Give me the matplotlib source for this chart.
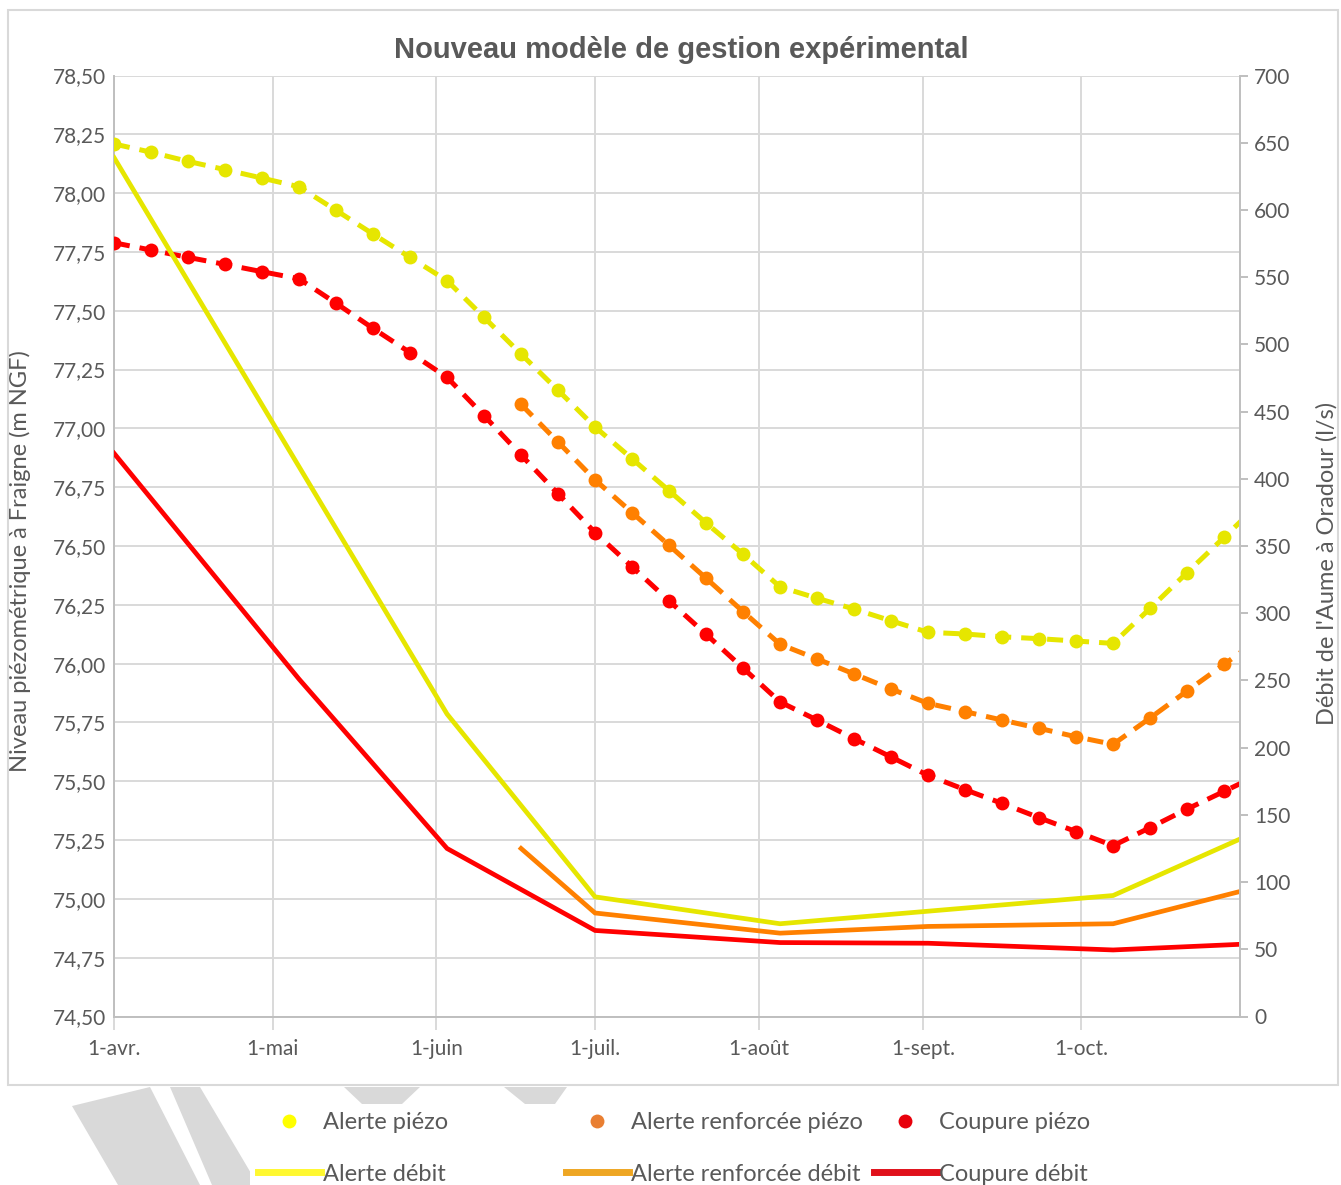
import matplotlib
matplotlib.use("Agg")
import matplotlib.pyplot as plt
from matplotlib.lines import Line2D
from matplotlib.patches import Polygon, Rectangle
import pandas as pd

# ---------------- data ----------------
weekly_dates = ["2021-04-01", "2021-04-08", "2021-04-15", "2021-04-22", "2021-04-29",
                "2021-05-06", "2021-05-13", "2021-05-20", "2021-05-27",
                "2021-06-03", "2021-06-10", "2021-06-17", "2021-06-24",
                "2021-07-01", "2021-07-08", "2021-07-15", "2021-07-22", "2021-07-29",
                "2021-08-05", "2021-08-12", "2021-08-19", "2021-08-26",
                "2021-09-02", "2021-09-09", "2021-09-16", "2021-09-23", "2021-09-30",
                "2021-10-07", "2021-10-14", "2021-10-21", "2021-10-28", "2021-11-04"]

alerte_piezo = [78.209, 78.174, 78.135, 78.100, 78.064, 78.027, 77.927, 77.826, 77.727,
                77.628, 77.472, 77.316, 77.162, 77.006, 76.871, 76.735, 76.598, 76.465,
                76.326, 76.278, 76.232, 76.182, 76.133, 76.126, 76.114, 76.106, 76.096,
                76.086, 76.235, 76.387, 76.537, 76.688]

coupure_piezo = [77.789, 77.758, 77.727, 77.697, 77.666, 77.636, 77.532, 77.425, 77.322,
                 77.217, 77.054, 76.887, 76.722, 76.557, 76.412, 76.267, 76.125, 75.981,
                 75.837, 75.760, 75.681, 75.603, 75.525, 75.464, 75.406, 75.345, 75.286,
                 75.226, 75.303, 75.382, 75.457, 75.533]

renf_piezo_dates = weekly_dates[11:]
renf_piezo = [77.102, 76.942, 76.781, 76.642, 76.503, 76.363, 76.221, 76.082, 76.020,
              75.956, 75.892, 75.831, 75.796, 75.760, 75.725, 75.689, 75.657, 75.769,
              75.884, 75.997, 76.111]

alerte_debit_dates = ["2021-04-01", "2021-06-03", "2021-07-01", "2021-08-05", "2021-10-07", "2021-11-04"]
alerte_debit = [639, 225, 89, 69, 90, 139]

renf_debit_dates = ["2021-06-17", "2021-07-01", "2021-08-05", "2021-09-02", "2021-10-07", "2021-11-04"]
renf_debit = [125, 77, 62, 67, 69, 97]

coupure_debit_dates = ["2021-04-01", "2021-05-06", "2021-06-03", "2021-07-01", "2021-08-05",
                       "2021-09-02", "2021-10-07", "2021-11-04"]
coupure_debit = [419, 251, 125, 64, 55, 54.5, 49.5, 54.4]

month_ticks = ["2021-04-01", "2021-05-01", "2021-06-01", "2021-07-01", "2021-08-01",
               "2021-09-01", "2021-10-01"]
month_labels = ["1-avr.", "1-mai", "1-juin", "1-juil.", "1-août", "1-sept.", "1-oct."]

left_ticks = [74.50, 74.75, 75.00, 75.25, 75.50, 75.75, 76.00, 76.25, 76.50, 76.75,
              77.00, 77.25, 77.50, 77.75, 78.00, 78.25, 78.50]
right_ticks = [0, 50, 100, 150, 200, 250, 300, 350, 400, 450, 500, 550, 600, 650, 700]

title = "Nouveau modèle de gestion expérimental"
left_label = "Niveau piézométrique à Fraigne (m NGF)"
right_label = "Débit de l'Aume à Oradour (l/s)"

# ---------------- style ----------------
YEL, ORA, RED = "#E6E600", "#FF8000", "#FF0000"
GRAY = "#595959"
GRID = "#d9d9d9"
TXT_FONT = ["Lato", "DejaVu Sans"]

W, H = 1341, 1185
fig = plt.figure(figsize=(W / 100, H / 100), dpi=100)
fig.patch.set_facecolor("white")

def fx(px):
    return px / W

def fy(py):
    return 1 - py / H

# chart frame
fig.add_artist(Rectangle((fx(8), fy(1085)), fx(1338) - fx(8), fy(10) - fy(1085),
                         transform=fig.transFigure, fill=False, edgecolor=GRID, lw=1.5))

# watermark shapes (background decoration)
wm = "#d9d9d9"
for poly in [
    [(72, 1106), (150, 1087), (200, 1185), (118, 1185)],
    [(170, 1087), (200, 1087), (258, 1185), (212, 1185)],
    [(344, 1087), (420, 1087), (402, 1104), (362, 1104)],
    [(504, 1087), (567, 1087), (555, 1104), (525, 1104)],
]:
    fig.add_artist(Polygon([(fx(a), fy(b)) for a, b in poly], closed=True,
                           transform=fig.transFigure, facecolor=wm, edgecolor="none"))

ax = fig.add_axes([fx(114), fy(1016.5), fx(1240) - fx(114), fy(75.5) - fy(1016.5)])
ax2 = ax.twinx()

wd = pd.to_datetime(weekly_dates)
dash_kw = dict(lw=3.6, dashes=(3.2, 2), marker="o", markersize=10, markeredgewidth=0)
ax.plot(wd, alerte_piezo, color=YEL, **dash_kw, zorder=3)
ax.plot(pd.to_datetime(renf_piezo_dates), renf_piezo, color=ORA, **dash_kw, zorder=3)
ax.plot(wd, coupure_piezo, color=RED, **dash_kw, zorder=3)

solid_kw = dict(lw=3.4, solid_joinstyle="miter")
ax2.plot(pd.to_datetime(alerte_debit_dates), alerte_debit, color=YEL, **solid_kw)
ax2.plot(pd.to_datetime(renf_debit_dates), renf_debit, color=ORA, **solid_kw)
ax2.plot(pd.to_datetime(coupure_debit_dates), coupure_debit, color=RED, **solid_kw)

ax.set_xlim(pd.Timestamp("2021-04-01"), pd.Timestamp("2021-10-31"))
ax.set_ylim(74.5, 78.5)
ax2.set_ylim(0, 700)

ax.set_xticks(pd.to_datetime(month_ticks))
ax.set_xticklabels(month_labels)
ax.set_yticks(left_ticks)
ax.set_yticklabels([f"{v:.2f}".replace(".", ",") for v in left_ticks])
ax2.set_yticks(right_ticks)
ax2.set_yticklabels([str(v) for v in right_ticks])

ax.grid(True, color=GRID, lw=1.4)
ax.set_axisbelow(True)
for a in (ax, ax2):
    a.spines["top"].set_visible(False)
ax.spines["right"].set_visible(False)
ax2.spines["left"].set_visible(False)
ax2.spines["bottom"].set_visible(False)
ax.spines["left"].set_color("#bfbfbf")
ax.spines["left"].set_linewidth(1.4)
ax.spines["bottom"].set_color("#bfbfbf")
ax.spines["bottom"].set_linewidth(1.4)
ax2.spines["right"].set_color("#bfbfbf")
ax2.spines["right"].set_linewidth(1.4)

ax.tick_params(axis="y", length=0, pad=6, labelsize=15, labelcolor=GRAY)
ax.tick_params(axis="x", length=9, width=1.4, color=GRID, pad=7, labelsize=15, labelcolor=GRAY)
ax2.tick_params(axis="y", length=6, width=1.4, color="#bfbfbf", pad=4, labelsize=15, labelcolor=GRAY)
for lab in ax.get_xticklabels() + ax.get_yticklabels() + ax2.get_yticklabels():
    lab.set_fontfamily(TXT_FONT)

ax.set_ylabel(left_label, fontsize=17, color=GRAY, family=TXT_FONT)
ax.yaxis.set_label_coords(-0.074, 0.484)
ax2.set_ylabel(right_label, fontsize=17, color=GRAY, family=TXT_FONT, rotation=90)
ax2.yaxis.set_label_coords(1.0675, 0.482)

fig.text(fx(681), fy(50), title, ha="center", va="center", fontsize=21,
         fontweight="bold", color=GRAY, family=["Liberation Sans", "DejaVu Sans"])

# legend (outside the chart frame, white box over the watermark)
fig.add_artist(Rectangle((fx(250), fy(1185)), fx(1100) - fx(250), fy(1104) - fy(1185),
                         transform=fig.transFigure, facecolor="white", edgecolor="none"))
legend_cols = [
    (258, [("Alerte piézo", "#FFFF00", "dot"), ("Alerte débit", "#FFF830", "line")]),
    (566, [("Alerte renforcée piézo", "#E97F32", "dot"), ("Alerte renforcée débit", "#EEA623", "line")]),
    (874, [("Coupure piézo", "#E8000B", "dot"), ("Coupure débit", "#E0101A", "line")]),
]
for xpx, entries in legend_cols:
    handles = []
    for lab, col, kind in entries:
        if kind == "dot":
            handles.append(Line2D([], [], ls="none", marker="o", markersize=10,
                                  markerfacecolor=col, markeredgewidth=0, label=lab))
        else:
            handles.append(Line2D([], [], color=col, lw=5, label=lab))
    leg = fig.legend(handles=handles, loc="upper left",
                     bbox_to_anchor=(fx(xpx), fy(1112)), frameon=False,
                     handlelength=2.65, handletextpad=0.1, labelspacing=1.3,
                     borderpad=0, borderaxespad=0,
                     prop={"family": TXT_FONT, "size": 17})
    for t in leg.get_texts():
        t.set_color(GRAY)

fig.savefig("out.png", dpi=100, facecolor="white")
